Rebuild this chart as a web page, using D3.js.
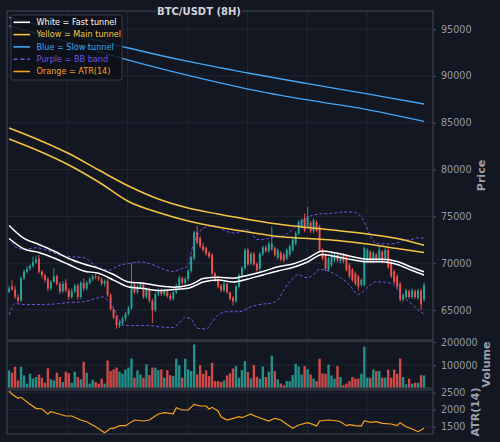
<!DOCTYPE html>
<html>
<head>
<meta charset="utf-8">
<script src="https://cdn.jsdelivr.net/npm/d3@7"></script>
<style>
  body { margin: 0; background: #131722; }
  svg { display: block; font-family: "DejaVu Sans", sans-serif; }
</style>
</head>
<body>
<div id="chart"></div>
<script>
  // candles (8H), index 0..139
  var opens = [66960,67500,67200,66400,66000,68400,69100,69400,69700,70100,
    70500,69100,68700,68300,67300,68000,68600,67800,67000,67900,
    67100,66400,67000,67600,66400,67900,67300,67900,68300,68600,
    68500,68300,67800,68100,66600,65100,64300,63300,63600,64100,
    64600,65200,67700,66900,67500,67800,66400,67200,66000,65000,
    66700,67100,66700,67000,66500,66200,66900,67500,68400,67900,
    68300,69200,70500,73300,72700,71800,71600,71100,70900,68900,
    68200,67600,67100,67800,66900,66300,65900,67500,68700,69500,
    71400,70000,71000,69900,69400,71000,71700,71300,71500,71600,
    70600,71100,70900,70500,70900,71400,72100,73200,73900,74800,
    73900,74300,73400,74400,73900,71400,70900,69300,69800,70300,
    70900,70200,70900,70700,69800,69300,68900,68600,67700,67700,
    70200,71200,70200,70900,70300,71200,70500,71400,70000,69100,
    68600,67800,66100,66400,67000,66400,67000,66300,67100,66100];
  var highs = [67600,68200,67600,66700,68600,69300,69700,69900,70700,70800,
    70900,69300,68900,68500,68200,69500,68800,68000,68100,68300,
    67300,67300,67800,67800,68100,68400,68100,68500,68800,69000,
    68700,68500,68300,68300,66800,65300,64500,63900,64300,64800,
    65400,70000,67900,67700,68000,68000,67400,67400,66200,66900,
    67300,67300,67200,67100,66800,67100,67800,68700,68600,68500,
    69400,70800,73500,74000,72900,72200,71800,71300,71100,69100,
    68600,67800,68000,67900,67000,66500,67700,68900,69700,71600,
    71600,71200,71200,70100,71200,71900,71900,72300,73900,71800,
    71600,71300,71100,71600,72000,72700,73400,74600,74800,75300,
    76000,74500,74800,74600,74100,71600,71100,70700,71100,71100,
    71100,70900,71100,70900,70000,69500,69100,68800,68400,71800,
    71600,71400,71300,71100,71900,71400,71600,71600,70200,69300,
    68800,68000,66800,67300,67200,67300,67200,67300,67300,67900];
  var lows = [66800,67100,66200,65700,65900,68200,68900,69200,69500,69900,
    68900,68400,67900,67000,67100,67900,67600,66700,66800,66900,
    66100,66200,66800,66100,66200,67000,67100,67700,68100,68300,
    68100,67600,67500,66400,64900,64000,63000,63100,63300,63800,
    64400,65000,66700,66700,67300,66200,66200,65800,63600,64800,
    66500,66500,66500,66300,66000,66000,66700,67300,67700,67700,
    68100,69000,70300,72000,71600,71200,70800,70500,68700,68000,
    67300,66900,66900,66700,66000,65500,65800,67300,68500,69300,
    69700,69800,69700,69100,69200,70800,71100,71100,71300,70700,
    70400,70200,70100,70300,70700,71200,71900,73000,73700,73300,
    73700,73200,73200,73300,71200,70300,69200,69100,69600,70100,
    70100,70000,70000,69100,68400,68000,67600,67100,67500,67500,
    70000,70000,70000,70100,70100,70000,70300,69400,68400,67800,
    67300,65900,65900,66200,66200,66200,66200,66100,65000,65900];
  var closes = [67310,67200,66400,66000,68400,69100,69400,69700,70100,70400,
    69100,68700,68200,67300,68000,68600,67800,67000,67800,67100,
    66400,67000,67600,66400,67900,67300,67900,68300,68600,68500,
    68300,67800,68100,66600,65100,64200,63400,63700,64100,64600,
    65200,67700,66900,67500,67800,66400,67200,66000,65000,66700,
    67100,66700,67000,66500,66200,66900,67500,68400,67900,68300,
    69200,70600,73300,72200,71800,71400,71000,70700,68900,68200,
    67500,67100,67800,66900,66200,65900,67500,68700,69500,71400,
    69900,71000,69900,69300,71000,71700,71300,72100,72100,70900,
    71400,70400,70300,71400,71800,72500,73200,74400,74600,73500,
    75000,73400,74600,73500,71400,70500,69400,70500,70900,70900,
    70300,70700,70200,69300,68600,68200,67800,67500,68200,71600,
    71400,70200,71100,70300,71400,70200,71400,69600,68600,68000,
    67500,66100,66600,67100,66400,67100,66400,67100,65600,67700];
  var volumes = [77000,67000,93000,33000,93000,55000,19000,62000,41000,48000,
    59000,45000,23000,86000,38000,33000,67000,48000,26000,71000,
    64000,23000,71000,48000,38000,114000,67000,19000,36000,26000,
    19000,41000,19000,120000,74000,81000,89000,71000,62000,81000,
    89000,129000,45000,77000,59000,45000,103000,56000,89000,89000,
    78000,81000,45000,78000,56000,52000,128000,99000,45000,128000,
    81000,74000,190000,59000,99000,62000,77000,52000,110000,30000,
    30000,26000,33000,55000,64000,85000,96000,45000,78000,117000,
    70000,42000,100000,49000,41000,94000,48000,71000,141000,74000,
    38000,20000,12000,30000,30000,56000,106000,94000,59000,96000,
    81000,59000,41000,30000,128000,64000,62000,102000,55000,41000,
    96000,48000,13000,19000,30000,48000,41000,41000,62000,181000,
    45000,45000,81000,74000,74000,45000,45000,80000,45000,80000,
    62000,128000,48000,16000,41000,19000,23000,23000,56000,55000];

  // white = fast tunnel
  var fastIdx = [0,5,10,15,20,25,30,35,40,45,50,55,60,62,65,70,75,80,85,90,95,100,105,110,115,120,125,130,135,139];
  var fastUpper = [74030,72640,72000,71300,70500,69910,69450,68790,67990,67850,67590,67440,67640,67880,68360,
    68500,68400,68720,69110,69620,69910,70520,71300,71060,70690,70420,70420,70180,69540,69090];
  var fastLower = [72640,71520,71140,70550,69860,69170,68920,68200,67460,67300,67080,67190,67330,67560,67990,
    68200,67990,68310,68740,69170,69540,70130,70930,70660,70370,70160,70160,69860,69220,68740];

  // yellow = main tunnel
  var mainIdx = [0,10,20,30,40,50,60,70,80,90,100,110,120,130,139];
  var mainUpper = [84440,83160,81710,79950,78240,76850,75890,75250,74670,74180,73810,73490,73120,72640,71920];
  var mainLower = [83260,81980,80490,78670,76590,75410,74510,73860,73330,72850,72640,72420,72050,71570,71140];

  // blue = slow tunnel
  var slowIdx = [0,20,40,60,80,100,120,139];
  var slowUpper = [96260,94580,92980,91540,90310,89170,88070,87000];
  var slowLower = [95330,93570,91680,90050,88600,87430,86410,85150];

  // purple = BB band
  var bbUpIdx = [0,2,5,9,13,17,21,25,29,32,34,36,40,44,48,52,55,58,60,61,62,63,64,66,68,70,72,76,79,81,
    83,85,88,91,94,96,99,101,104,108,112,115,117,119,121,123,127,130,132,135,137,139];
  var bbUpper = [72690,71760,71460,71650,71350,70870,70690,70610,69700,69330,69270,69650,69970,70130,69860,
    69330,69110,69450,69700,71190,72260,72900,73440,73860,74020,73860,73490,73220,73600,73330,
    72530,72530,72740,72850,73330,73900,74610,75040,75250,75310,75470,75470,75250,74400,72900,
    72100,72050,72160,72420,72550,72720,72660];
  var bbLoIdx = [0,2,5,10,15,20,25,29,31,33,35,37,39,43,47,51,55,57,59,61,63,66,68,70,73,77,81,85,88,90,
    92,94,97,99,101,104,107,110,113,114,117,118,121,123,128,132,135,137,139];
  var bbLower = [64470,65690,65590,65590,65640,65800,65890,66230,66420,66070,65210,63930,63340,63340,63340,
    63180,63130,63610,64200,64040,63080,62970,63720,64470,64820,64820,65350,65640,65750,66070,
    67140,67990,68790,68470,68560,69330,69170,68680,67990,67670,66660,66820,67670,68020,67850,
    66420,65600,65000,64570];

  // orange = ATR(14)
  var atrIdx = [0,1,3,4,7,9,11,13,14,17,19,21,24,26,29,32,34,35,37,39,42,45,47,50,52,55,56,58,60,62,
    64,66,67,68,70,71,73,76,77,78,81,82,83,87,89,91,95,97,100,102,103,104,107,110,111,113,114,116,
    118,119,121,123,125,128,130,131,133,135,137,138,139];
  var atrVal = [2550,2453,2335,2365,2159,2041,2020,1874,1941,1865,1815,1815,1697,1647,1500,1324,1453,1453,1530,1530,
    1697,1668,1697,1874,1912,1880,2060,1991,1991,2159,2109,2109,2020,2070,1962,1794,1697,1765,1794,1765,
    1874,1824,1794,1668,1747,1697,1453,1550,1618,1560,1520,1668,1697,1668,1647,1530,1560,1530,1520,1677,
    1630,1647,1600,1580,1530,1618,1500,1432,1353,1402,1453];

  var priceTicks = [65000,70000,75000,80000,85000,90000,95000];
  var volumeTicks = [100000,200000];
  var atrTicks = [1500,2000,2500];
  var timeTicks = [19.6,39.7,59.8,79.9,99.9,119.9];

  var legendItems = [
    {label: "White = Fast tunnel", color: "#ffffff", dash: null},
    {label: "Yellow = Main tunnel", color: "#f5c542", dash: null},
    {label: "Blue = Slow tunnel", color: "#42a5f5", dash: null},
    {label: "Purple = BB band", color: "#7352e0", dash: "4,3"},
    {label: "Orange = ATR(14)", color: "#f7a21b", dash: null}
  ];

  var width = 500, height = 442;
  var left = 7, right = 433;
  var bg = "#131722", frame = "#383c48", grid = "#222632",
      textCol = "#949aa5", up = "#26a69a", down = "#ef5350";

  var svg = d3.select("#chart").append("svg")
      .attr("width", width)
      .attr("height", height);

  svg.append("rect").attr("width", width).attr("height", height).attr("fill", bg);

  var N = closes.length;
  var x = d3.scaleLinear().domain([-0.7, N + 2]).range([left, right]);
  var step = x(1) - x(0);

  var panels = [
    {name: "Price", top: 11, bottom: 340, domain: [61800, 96930], ticks: priceTicks, labelX: 481.5},
    {name: "Volume", top: 341, bottom: 388, domain: [0, 205000], ticks: volumeTicks, labelX: 486},
    {name: "ATR(14)", top: 390, bottom: 434, domain: [1285, 2580], ticks: atrTicks, labelX: 475}
  ];
  panels.forEach(function(p) {
    p.y = d3.scaleLinear().domain(p.domain).range([p.bottom, p.top]);
  });
  var yP = panels[0].y, yV = panels[1].y, yA = panels[2].y;

  // grids, axes, labels
  panels.forEach(function(p) {
    var g = svg.append("g");
    g.selectAll(".hg").data(p.ticks).enter().append("line")
      .attr("x1", left).attr("x2", right)
      .attr("y1", function(d) { return p.y(d); })
      .attr("y2", function(d) { return p.y(d); })
      .attr("stroke", grid).attr("stroke-width", 1);
    g.selectAll(".vg").data(timeTicks).enter().append("line")
      .attr("x1", function(d) { return x(d); })
      .attr("x2", function(d) { return x(d); })
      .attr("y1", p.top).attr("y2", p.bottom)
      .attr("stroke", grid).attr("stroke-width", 1);

    var ax = svg.append("g")
      .attr("transform", "translate(" + right + ",0)")
      .call(d3.axisRight(p.y).tickValues(p.ticks).tickSize(3).tickPadding(5).tickFormat(d3.format("d")));
    ax.select(".domain").remove();
    ax.selectAll("line").attr("stroke", "#4a4f5c");
    ax.selectAll("text").attr("fill", textCol).style("font-size", "9.6px")
      .style("font-family", "DejaVu Sans, sans-serif");

    svg.append("text")
      .attr("transform", "translate(" + p.labelX + "," + ((p.top + p.bottom) / 2) + ") rotate(-90)")
      .attr("text-anchor", "middle")
      .attr("dy", "0.35em")
      .attr("fill", "#9ca1ab")
      .style("font-size", "11px")
      .style("font-weight", "bold")
      .text(p.name);
  });

  // candles
  var candles = d3.range(N).map(function(i) {
    return {i: i, o: opens[i], h: highs[i], l: lows[i], c: closes[i], v: volumes[i]};
  });
  function col(d) { return d.c >= d.o ? up : down; }

  svg.append("g").selectAll("line").data(candles).enter().append("line")
    .attr("x1", function(d) { return x(d.i); })
    .attr("x2", function(d) { return x(d.i); })
    .attr("y1", function(d) { return yP(d.h); })
    .attr("y2", function(d) { return yP(d.l); })
    .attr("stroke", col).attr("stroke-width", 0.9);

  svg.append("g").selectAll("rect").data(candles).enter().append("rect")
    .attr("x", function(d) { return x(d.i) - step * 0.32; })
    .attr("width", step * 0.64)
    .attr("y", function(d) { return yP(Math.max(d.o, d.c)); })
    .attr("height", function(d) { return Math.max(0.8, Math.abs(yP(d.o) - yP(d.c))); })
    .attr("fill", col);

  // volume bars
  svg.append("g").selectAll("rect").data(candles).enter().append("rect")
    .attr("x", function(d) { return x(d.i) - step * 0.4; })
    .attr("width", step * 0.8)
    .attr("y", function(d) { return yV(d.v); })
    .attr("height", function(d) { return yV(0) - yV(d.v); })
    .attr("fill", col)
    .attr("fill-opacity", 0.85);

  // indicator lines
  function drawLine(idx, vals, y, color, w, dash, curve) {
    var pts = idx.map(function(d, k) { return [d, vals[k]]; });
    svg.append("path")
      .datum(pts)
      .attr("fill", "none")
      .attr("stroke", color)
      .attr("stroke-width", w)
      .attr("stroke-dasharray", dash)
      .attr("d", d3.line()
        .x(function(d) { return x(d[0]); })
        .y(function(d) { return y(d[1]); })
        .curve(curve));
  }

  drawLine(bbUpIdx, bbUpper, yP, "#7352e0", 1, "3,2", d3.curveMonotoneX);
  drawLine(bbLoIdx, bbLower, yP, "#7352e0", 1, "3,2", d3.curveMonotoneX);
  drawLine(slowIdx, slowUpper, yP, "#42a5f5", 1.3, null, d3.curveMonotoneX);
  drawLine(slowIdx, slowLower, yP, "#42a5f5", 1.3, null, d3.curveMonotoneX);
  drawLine(mainIdx, mainUpper, yP, "#f5c542", 1.5, null, d3.curveMonotoneX);
  drawLine(mainIdx, mainLower, yP, "#f5c542", 1.5, null, d3.curveMonotoneX);
  drawLine(fastIdx, fastUpper, yP, "#ffffff", 1.5, null, d3.curveMonotoneX);
  drawLine(fastIdx, fastLower, yP, "#ffffff", 1.5, null, d3.curveMonotoneX);
  drawLine(atrIdx, atrVal, yA, "#f7a21b", 1.2, null, d3.curveLinear);

  // panel frames
  panels.forEach(function(p) {
    svg.append("rect")
      .attr("x", left).attr("y", p.top)
      .attr("width", right - left).attr("height", p.bottom - p.top)
      .attr("fill", "none").attr("stroke", frame).attr("stroke-width", 1.3);
  });

  // title
  svg.append("rect").attr("x", 156).attr("y", 5).attr("width", 86).attr("height", 12).attr("fill", bg);
  svg.append("text")
    .attr("x", 199).attr("y", 15)
    .attr("text-anchor", "middle")
    .attr("fill", "#d1d4dc")
    .style("font-size", "10px")
    .style("font-weight", "bold")
    .text("BTC/USDT (8H)");

  // legend
  var lg = svg.append("g").attr("transform", "translate(11,15)");
  lg.append("rect").attr("width", 111).attr("height", 65).attr("rx", 2)
    .attr("fill", "#0e1118").attr("fill-opacity", 0.85)
    .attr("stroke", frame).attr("stroke-width", 1);
  var li = lg.selectAll(".li").data(legendItems).enter().append("g")
    .attr("transform", function(d, k) { return "translate(0," + (7.3 + k * 12.3) + ")"; });
  li.append("line").attr("x1", 2.5).attr("x2", 19).attr("y1", 0).attr("y2", 0)
    .attr("stroke", function(d) { return d.color; })
    .attr("stroke-width", 1.6)
    .attr("stroke-dasharray", function(d) { return d.dash; });
  li.append("text").attr("x", 25.5).attr("dy", "0.35em")
    .attr("fill", function(d) { return d.color; })
    .style("font-size", "8.1px")
    .text(function(d) { return d.label; });
</script>
</body>
</html>
